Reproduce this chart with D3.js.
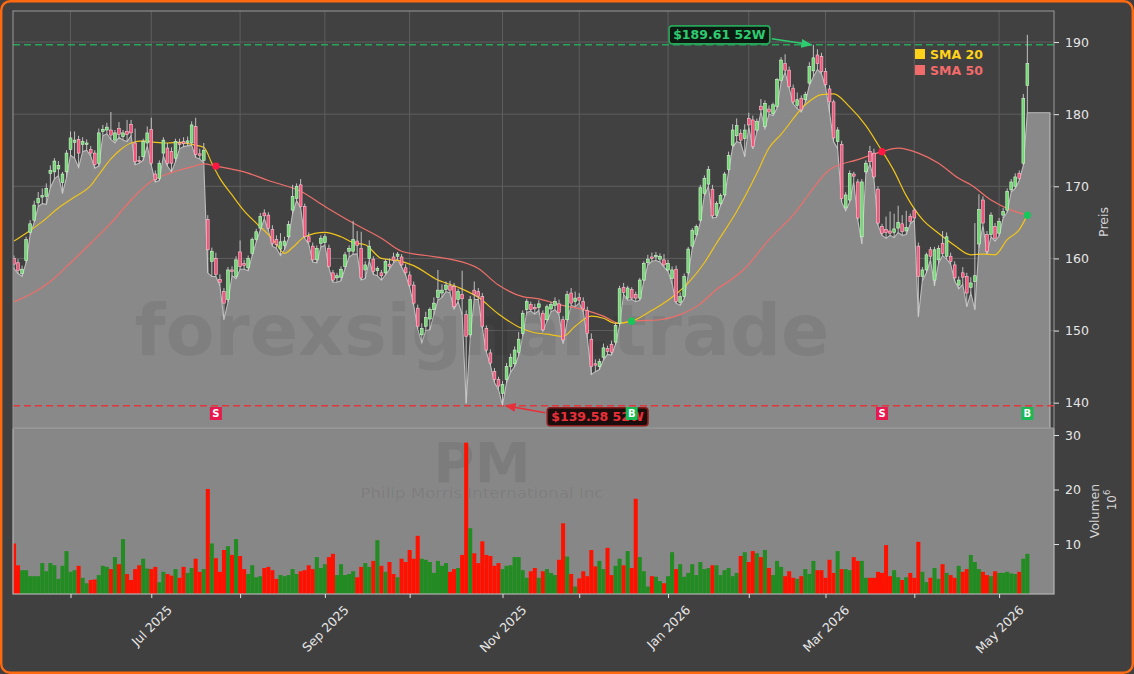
<!DOCTYPE html>
<html>
<head>
<meta charset="utf-8">
<script src="https://cdn.jsdelivr.net/npm/d3@7"></script>
<style>
  html, body { margin: 0; padding: 0; background: #404040; }
  svg { display: block; font-family: "DejaVu Sans", sans-serif; }
</style>
</head>
<body>
<div id="chart"></div>
<script>
// PM daily candles, 2025-05-12 .. 2026-05-12 (o, h, l, c)
const ohlc = [
  [160.0,160.4,158.6,159.2],[159.4,159.9,157.9,158.3],[157.9,159.0,157.5,158.5],[159.7,163.0,159.4,162.6],[163.6,165.3,163.3,164.8],
  [165.3,168.0,165.0,167.4],[167.7,169.2,167.2,168.3],[168.5,169.7,167.6,168.7],[168.6,170.4,167.5,169.7],[171.8,172.9,169.8,172.2],
  [172.0,173.9,171.0,173.5],[172.4,173.5,171.5,172.9],[170.5,172.0,169.0,171.7],[172.0,175.0,171.2,174.6],[175.1,177.6,174.3,176.7],
  [176.1,177.6,173.9,176.4],[176.5,177.0,172.6,174.6],[175.8,176.8,174.8,176.2],[175.8,176.5,175.0,176.0],[175.1,175.6,174.2,174.6],
  [174.6,175.0,172.5,173.0],[173.2,178.0,172.8,177.4],[177.6,178.5,177.0,177.9],[177.8,178.8,177.3,178.2],[177.8,180.3,176.5,177.1],
  [176.4,177.8,176.0,177.4],[178.0,178.9,176.8,177.2],[176.9,177.8,176.4,177.4],[177.6,179.2,176.2,177.2],[178.6,179.2,177.0,177.4],
  [176.0,178.0,173.0,173.4],[173.6,174.2,173.2,173.5],[174.1,176.6,173.6,176.2],[176.0,178.3,175.6,177.4],[177.9,179.5,172.9,173.2],
  [171.7,172.2,170.6,170.9],[171.1,173.6,170.8,173.2],[174.6,176.8,174.2,176.4],[175.3,176.0,172.8,173.2],[174.8,175.4,172.0,173.2],
  [173.9,176.6,173.4,176.2],[176.0,176.6,175.2,175.8],[176.2,176.8,175.5,175.9],[176.1,176.9,175.6,176.3],[176.0,179.0,175.7,178.5],
  [178.3,179.5,174.0,174.4],[174.5,175.2,173.8,174.3],[173.6,176.0,173.2,175.0],[165.4,166.0,158.0,161.2],[159.6,161.5,157.5,161.0],
  [160.0,160.8,157.5,157.8],[157.1,157.8,156.2,156.7],[155.4,155.9,151.5,153.8],[154.3,158.8,153.9,158.4],[158.4,158.9,157.6,158.2],
  [157.5,160.3,157.2,159.8],[160.9,162.5,158.5,158.9],[159.3,159.8,158.5,159.0],[158.7,160.4,158.3,160.0],[160.7,162.9,160.4,162.6],
  [162.6,164.1,162.3,163.7],[164.2,166.3,163.9,165.8],[166.3,166.8,165.5,165.9],[166.0,166.4,163.9,164.2],[164.0,164.6,161.7,162.1],
  [162.6,163.2,161.4,161.9],[161.3,163.5,160.4,162.3],[161.8,163.0,161.2,162.4],[163.0,165.2,162.8,164.7],[166.7,170.2,166.2,168.6],
  [168.3,170.4,168.0,170.0],[170.2,171.0,167.0,167.2],[167.2,167.6,162.8,163.0],[163.0,163.6,162.0,162.3],[161.7,162.2,159.5,159.8],
  [159.8,161.8,159.4,161.4],[162.1,163.2,161.6,162.8],[162.2,163.4,161.8,163.0],[161.4,161.9,158.7,158.9],[158.0,158.4,156.7,157.0],
  [157.3,158.0,156.7,157.6],[157.4,158.9,156.9,158.5],[158.9,160.9,158.6,160.5],[161.0,161.8,160.2,161.4],[161.0,165.2,160.6,162.6],
  [162.4,163.8,160.6,161.8],[161.4,163.7,157.0,157.3],[158.4,159.6,157.2,159.1],[160.0,162.5,159.7,161.7],[159.9,160.3,157.8,158.2],
  [158.3,158.9,157.6,158.6],[158.0,158.4,157.0,157.6],[158.0,159.9,157.7,159.6],[159.2,160.0,158.5,158.9],[160.2,160.8,159.4,159.7],
  [160.3,160.9,159.9,160.6],[160.2,160.6,158.8,159.1],[158.7,159.2,157.7,158.0],[157.7,158.2,156.0,156.3],[156.3,156.8,153.5,153.8],
  [153.1,153.6,150.2,150.6],[149.4,151.0,148.3,150.3],[150.6,152.6,150.0,151.8],[151.6,153.2,150.1,152.9],[152.9,154.6,152.2,153.8],
  [154.6,158.4,154.2,155.6],[155.2,156.4,154.6,155.6],[155.7,156.8,155.4,156.3],[156.2,156.9,155.2,155.6],[156.1,156.6,153.0,153.3],
  [154.3,155.8,154.0,155.4],[155.0,158.3,152.2,154.4],[152.2,152.8,139.9,149.2],[149.4,154.8,149.0,154.3],[155.6,156.8,154.3,155.0],
  [155.4,155.9,154.3,154.7],[154.7,155.2,150.3,150.6],[150.3,150.7,147.0,147.3],[146.9,147.4,145.2,145.5],[144.3,144.8,142.8,143.2],
  [143.2,143.6,141.8,142.3],[141.3,143.0,139.58,142.5],[143.2,145.5,142.8,145.0],[145.0,146.8,144.2,146.3],[145.4,147.8,145.0,147.3],
  [147.0,149.8,146.5,148.8],[149.6,152.8,149.2,152.4],[152.9,154.4,152.5,154.0],[153.6,154.0,152.7,152.9],[153.2,153.7,152.3,153.0],
  [153.2,154.2,152.8,153.7],[152.4,152.8,149.9,150.1],[151.5,153.6,151.2,153.3],[153.0,154.0,152.6,153.6],[153.5,154.6,152.9,154.0],
  [153.7,154.3,152.2,152.5],[151.5,152.0,148.2,148.7],[151.5,155.5,151.2,155.0],[155.2,155.9,153.5,153.8],[154.0,155.4,153.3,154.5],
  [154.6,155.2,153.8,154.2],[154.0,154.6,152.6,153.0],[152.8,153.3,149.0,149.6],[148.8,149.6,143.9,145.0],[145.4,146.0,144.3,145.2],
  [145.0,146.1,144.6,145.7],[146.3,148.2,145.9,147.6],[147.5,147.9,146.7,147.1],[148.1,148.6,146.6,147.0],[148.4,151.1,148.1,150.7],
  [151.0,156.2,150.7,155.8],[156.0,156.6,155.0,155.3],[154.5,156.2,154.2,155.9],[155.7,156.0,154.3,154.5],[155.0,155.4,154.0,154.5],
  [154.5,157.3,154.2,157.0],[157.0,159.6,156.8,159.3],[159.4,160.5,159.1,159.9],[160.2,160.8,159.6,160.0],[160.2,160.9,159.7,160.4],
  [159.9,160.7,159.5,160.3],[159.8,160.6,158.8,159.1],[158.4,159.8,158.2,159.3],[157.2,158.9,156.5,158.4],[158.5,159.0,153.8,154.0],
  [153.9,155.3,153.5,154.7],[154.7,157.9,154.4,157.5],[158.0,161.6,157.7,161.3],[161.7,164.2,161.4,163.9],[163.3,164.7,163.0,164.4],
  [165.3,170.2,165.0,169.8],[169.0,171.5,168.7,171.1],[170.3,172.8,170.0,172.3],[169.6,170.2,165.6,165.9],[166.0,167.9,165.7,167.6],
  [167.6,169.0,167.3,168.7],[168.8,172.0,168.5,171.7],[172.3,174.8,172.0,174.3],[175.7,178.6,175.4,177.8],[177.0,179.4,176.2,178.4],
  [177.3,177.9,176.0,176.4],[176.6,178.6,174.1,177.8],[179.4,180.2,178.2,178.5],[179.2,179.8,175.2,175.5],[177.8,179.4,177.5,179.0],
  [181.1,182.1,180.3,180.6],[178.3,181.9,178.0,181.5],[180.7,181.2,180.0,180.3],[180.1,181.6,179.8,181.3],[181.1,185.0,180.8,184.8],
  [184.7,187.9,184.4,187.5],[187.0,188.3,185.8,186.1],[186.1,186.6,183.6,183.8],[183.6,184.1,181.4,181.7],[181.2,183.0,180.8,182.0],
  [182.2,182.6,180.3,180.6],[182.0,183.1,181.6,182.7],[184.3,187.2,184.0,186.6],[186.0,189.61,185.2,187.8],[188.2,189.0,186.2,187.0],
  [188.0,188.5,185.6,185.9],[185.9,186.4,183.8,184.1],[183.5,184.0,180.2,181.7],[181.7,182.0,176.2,176.7],[176.2,178.2,175.2,177.8],
  [175.8,176.3,167.8,168.3],[167.0,169.2,166.6,168.8],[168.1,172.2,167.8,171.8],[171.7,172.0,170.6,171.4],[170.6,171.0,165.3,165.6],
  [163.0,171.0,162.0,170.6],[172.0,173.6,171.7,173.2],[174.8,175.6,173.1,173.4],[174.6,175.2,171.0,171.3],[169.6,170.0,164.6,164.9],
  [164.4,164.8,163.2,163.5],[164.0,165.8,162.8,163.6],[163.8,166.5,163.2,163.5],[163.6,166.2,162.9,164.1],[164.2,167.3,163.6,165.0],
  [164.8,166.0,163.2,163.7],[163.8,166.6,163.3,164.3],[165.8,166.2,164.8,165.1],[166.7,167.0,165.3,165.6],[161.7,162.2,151.9,157.5],
  [157.5,158.8,156.9,158.4],[158.4,160.8,158.0,160.5],[161.2,161.6,159.8,160.3],[157.0,161.6,156.2,161.2],[159.8,161.8,159.3,161.4],
  [162.1,163.8,160.4,160.7],[160.3,163.6,159.9,163.0],[160.3,160.8,159.2,159.6],[159.1,159.6,156.9,157.3],[156.3,157.5,155.8,157.0],
  [158.0,158.8,156.4,157.4],[157.5,158.0,153.3,155.2],[156.0,157.4,155.2,156.6],[156.8,164.9,152.9,157.6],[162.0,168.9,161.5,166.8],
  [168.1,168.6,164.6,164.9],[163.3,163.8,160.6,161.0],[163.3,166.4,163.0,166.0],[164.4,164.9,162.4,162.8],[163.5,165.6,163.1,165.1],
  [166.0,167.0,165.6,166.5],[166.7,169.7,166.4,169.3],[169.5,171.0,169.2,170.6],[170.0,171.8,169.7,171.3],[171.8,172.2,170.8,171.1],
  [173.2,182.8,172.9,182.2],[184.0,191.0,180.2,187.0]
]

// daily volume, millions
const volumes = [
  10.1,6.1,5.2,5.2,4.1,4.1,4.1,6.5,5.0,6.5, 6.1,3.6,6.0,8.7,4.9,5.2,6.0,3.8,2.8,3.4,
  3.5,4.3,6.0,5.8,5.4,7.6,6.3,10.9,4.5,3.4, 5.4,6.1,7.3,5.5,5.4,5.8,3.0,4.9,4.5,4.2,
  5.4,3.8,5.8,4.7,5.6,7.3,4.9,5.4,20.1,10.1, 7.4,4.9,8.9,9.6,8.0,10.9,7.8,5.4,4.5,6.1,
  3.9,4.1,5.6,5.8,5.2,3.6,4.3,4.1,4.3,5.4, 4.5,5.0,5.2,6.1,5.4,7.6,5.6,6.3,7.6,8.2,
  4.3,6.3,4.3,4.5,5.0,3.9,5.8,6.5,5.8,6.9, 10.7,6.0,4.9,6.7,4.5,3.9,7.3,6.7,8.9,7.3,
  11.5,7.3,7.1,6.7,4.7,6.9,6.0,6.5,4.9,5.4, 5.6,8.0,28.6,12.9,8.3,6.5,10.5,8.0,7.8,6.0,
  6.5,5.4,6.0,6.1,7.6,7.6,5.2,3.8,5.0,5.6, 3.8,5.0,5.4,4.7,4.3,7.1,13.8,7.7,4.5,2.2,
  3.7,5.0,4.1,8.9,5.9,6.9,5.4,9.3,4.3,6.0, 7.3,6.1,8.7,5.6,18.3,7.6,5.0,2.2,4.1,4.0,
  3.2,2.8,4.1,8.5,5.4,6.3,4.0,4.7,6.3,4.3, 6.7,5.4,5.6,6.1,6.1,4.3,5.2,5.6,4.1,4.7,
  7.8,8.5,6.7,8.7,8.3,7.6,8.9,5.6,4.3,6.9, 5.8,4.1,5.0,3.8,3.6,4.1,5.4,4.5,6.9,5.2,
  5.2,3.8,7.1,4.7,8.7,5.4,5.4,5.2,7.6,6.9, 6.9,3.8,3.8,3.8,4.9,4.7,9.8,4.1,5.2,3.9,
  3.4,3.9,4.7,3.8,10.4,4.9,3.0,3.8,5.6,3.6, 6.3,4.7,4.3,3.8,6.0,4.9,5.4,8.0,6.7,5.4,
  4.9,4.3,4.1,5.0,4.7,4.7,4.9,4.6,4.5,4.9, 7.3,8.2
]

// moving averages: [day index, price]
const sma20 = [
  [0,162.4],[3,163.5],[7,165.1],[11,167.0],[15,168.5],[19,170.1],[21,171.6],[24,173.8],[26,174.9],[29,176.0],
  [32,176.3],[35,176.1],[38,176.0],[41,176.1],[44,175.8],[47,175.4],[49,173.2],[51,171.1],[54,168.8],[57,166.6],
  [60,164.9],[63,163.3],[65,162.0],[67,160.7],[69,161.5],[72,163.0],[77,163.6],[81,163.0],[84,162.2],[87,161.9],
  [91,160.0],[96,159.6],[99,159.0],[105,157.0],[110,156.0],[115,154.6],[120,152.3],[125,150.5],[129,149.7],[132,149.5],
  [136,149.2],[139,150.6],[143,152.0],[146,151.7],[149,151.0],[153,151.3],[158,152.8],[162,154.2],[167,156.6],[171,159.4],
  [174,162.1],[179,166.5],[184,171.8],[187,175.3],[190,177.2],[196,181.3],[200,182.7],[203,182.8],[207,181.0],[211,178.4],
  [214,175.8],[218,172.1],[221,168.7],[225,165.4],[229,163.5],[233,161.8],[237,160.5],[240,160.6],[243,160.5],[246,162.6],
  [249,164.0],[251,166.0]
]
const sma50 = [
  [0,154.0],[4,155.0],[9,156.8],[14,159.4],[19,162.1],[24,164.9],[29,168.1],[34,170.7],[39,171.9],[44,172.7],
  [47,173.1],[50,172.8],[57,172.0],[63,170.8],[71,169.3],[77,167.2],[84,164.9],[91,162.8],[96,161.0],[102,160.4],
  [108,159.9],[115,158.6],[120,156.3],[126,154.7],[130,154.4],[135,153.6],[141,152.9],[146,152.0],[150,151.0],[153,151.3],
  [160,151.5],[165,152.2],[170,153.7],[174,155.7],[177,156.8],[181,158.6],[187,162.6],[194,166.7],[197,169.0],[202,172.3],
  [209,173.7],[215,174.8],[219,175.3],[224,174.6],[229,173.2],[234,171.1],[237,170.2],[242,168.1],[247,166.7],[251,166.0]
]

// SMA crossings: [day index, price, side]
const crossings = [[50, 172.8, "S"], [153, 151.3, "B"], [215, 174.8, "S"], [251, 166.0, "B"]]

const high52 = [198, 189.61]
const low52 = [121, 139.58]

const priceTicks = [140, 150, 160, 170, 180, 190]
const volumeTicks = [10, 20, 30]
const holidays = ["2025-05-26", "2025-06-19", "2025-07-04", "2025-09-01", "2025-11-27",
  "2025-12-25", "2026-01-01", "2026-01-19", "2026-02-16", "2026-04-03"]
const firstDay = "2025-05-12"

// trading calendar
const fmtKey = d3.timeFormat("%Y-%m-%d")
const dates = []
for (let d = d3.timeParse("%Y-%m-%d")(firstDay); dates.length < ohlc.length; d = d3.timeDay.offset(d, 1)) {
  const wd = d.getDay()
  if (wd === 0 || wd === 6 || holidays.includes(fmtKey(d))) continue
  dates.push(d)
}
const monthTicks = dates.map((d, i) => i).filter(i => i > 0 && dates[i].getMonth() !== dates[i - 1].getMonth())

const width = 1134
const height = 674
const price = { left: 13, right: 1054, top: 11, bottom: 428 }
const vol = { left: 13, right: 1054, top: 430, bottom: 594 }

const svg = d3.select("#chart").append("svg")
  .attr("width", width)
  .attr("height", height)

svg.append("rect")
  .attr("x", 1.2).attr("y", 1.2)
  .attr("width", width - 2.4).attr("height", height - 2.4)
  .attr("rx", 9)
  .attr("fill", "#404040")
  .attr("stroke", "#ff6a10")
  .attr("stroke-width", 2.4)

const defs = svg.append("defs")
defs.append("clipPath").attr("id", "clipPrice").append("rect")
  .attr("x", price.left).attr("y", price.top)
  .attr("width", price.right - price.left).attr("height", price.bottom - price.top)
defs.append("clipPath").attr("id", "clipVol").append("rect")
  .attr("x", vol.left).attr("y", vol.top)
  .attr("width", vol.right - vol.left).attr("height", vol.bottom - vol.top)
const addArrow = (id, color) => defs.append("marker")
  .attr("id", id).attr("viewBox", "0 0 10 10")
  .attr("refX", 9).attr("refY", 5)
  .attr("markerWidth", 7).attr("markerHeight", 7)
  .attr("orient", "auto")
  .append("path").attr("d", "M0,1 L10,5 L0,9 z").attr("fill", color)
addArrow("arrowGreen", "#2ecc71")
addArrow("arrowRed", "#e8303a")

const xScale = d3.scaleLinear()
  .domain([-0.25, 257.6])
  .range([price.left, price.right])
const yScale = d3.scaleLinear()
  .domain([136.49, 194.3])
  .range([price.bottom, price.top])
const vScale = d3.scaleLinear()
  .domain([0.83, 30.92])
  .range([vol.bottom, vol.top])

// ---- price panel ----
const pricePanel = svg.append("g").attr("clip-path", "url(#clipPrice)")

pricePanel.append("rect")
  .attr("x", price.left).attr("y", price.top)
  .attr("width", price.right - price.left).attr("height", price.bottom - price.top)
  .attr("fill", "#414141")

pricePanel.append("g")
  .selectAll("line.v")
  .data(monthTicks)
  .join("line")
    .attr("x1", d => xScale(d)).attr("x2", d => xScale(d))
    .attr("y1", price.top).attr("y2", price.bottom)
    .attr("stroke", "#5e5e5e").attr("stroke-width", 1)
pricePanel.append("g")
  .selectAll("line.h")
  .data(priceTicks)
  .join("line")
    .attr("x1", price.left).attr("x2", price.right)
    .attr("y1", d => yScale(d)).attr("y2", d => yScale(d))
    .attr("stroke", "#5e5e5e").attr("stroke-width", 1)

// light area along the daily lows
const lowPts = ohlc.map((d, i) => [i, d[2]])
const areaPts = [[xScale.domain()[0], ohlc[0][2]], ...lowPts, [256.6, ohlc[ohlc.length - 1][2]]]
pricePanel.append("path")
  .datum(areaPts)
  .attr("fill", "#898989")
  .attr("d", d3.area()
    .x(d => xScale(d[0]))
    .y0(price.bottom)
    .y1(d => yScale(d[1]))
  )
pricePanel.append("path")
  .datum([...areaPts, [256.6, yScale.domain()[0]]])
  .attr("fill", "none")
  .attr("stroke", "#bdbdbd")
  .attr("stroke-width", 1.1)
  .attr("d", d3.line().x(d => xScale(d[0])).y(d => yScale(d[1])))

pricePanel.append("text")
  .attr("x", 482).attr("y", 355)
  .attr("text-anchor", "middle")
  .attr("font-size", 71).attr("font-weight", "bold")
  .attr("textLength", 695).attr("lengthAdjust", "spacingAndGlyphs")
  .attr("fill", "rgba(0,0,0,0.07)")
  .text("forexsignal.trade")

// 52-week lines
pricePanel.append("line")
  .attr("x1", price.left).attr("x2", price.right)
  .attr("y1", yScale(high52[1])).attr("y2", yScale(high52[1]))
  .attr("stroke", "#27a65a").attr("stroke-width", 1.5).attr("stroke-dasharray", "7,4")
pricePanel.append("line")
  .attr("x1", price.left).attr("x2", price.right)
  .attr("y1", yScale(low52[1])).attr("y2", yScale(low52[1]))
  .attr("stroke", "#e0383c").attr("stroke-width", 1.5).attr("stroke-dasharray", "7,4")

const smaLine = d3.line()
  .x(d => xScale(d[0]))
  .y(d => yScale(d[1]))
  .curve(d3.curveMonotoneX)
pricePanel.append("path").datum(sma50)
  .attr("fill", "none").attr("stroke", "#ee6f6a").attr("stroke-width", 1.2)
  .attr("d", smaLine)
pricePanel.append("path").datum(sma20)
  .attr("fill", "none").attr("stroke", "#f0c419").attr("stroke-width", 1.2)
  .attr("d", smaLine)

const isUp = d => d[3] >= d[0]
const candle = pricePanel.append("g")
  .selectAll("g")
  .data(ohlc)
  .join("g")
candle.append("line")
  .attr("x1", (d, i) => xScale(i)).attr("x2", (d, i) => xScale(i))
  .attr("y1", d => yScale(d[1])).attr("y2", d => yScale(d[2]))
  .attr("stroke", "#cfcfcf").attr("stroke-width", 0.9)
candle.append("rect")
  .attr("x", (d, i) => xScale(i) - 1.4)
  .attr("width", 2.8)
  .attr("y", d => yScale(Math.max(d[0], d[3])))
  .attr("height", d => Math.max(1, Math.abs(yScale(d[0]) - yScale(d[3]))))
  .attr("fill", d => isUp(d) ? "#72d872" : "#f2557a")
  .attr("stroke", d => isUp(d) ? "#d4f5d4" : "#f9c6d2")
  .attr("stroke-width", 0.6)

pricePanel.append("g")
  .selectAll("circle")
  .data(crossings)
  .join("circle")
    .attr("cx", d => xScale(d[0]))
    .attr("cy", d => yScale(d[1]))
    .attr("r", 3.6)
    .attr("fill", d => d[2] === "S" ? "#ff1744" : "#16c75a")

// 52-week labels
const addLabel = (pt, dx, dy, color, border, fill, arrowId) => {
  const px = xScale(pt[0]), py = yScale(pt[1])
  const g = svg.append("g")
  const t = g.append("text")
    .attr("x", px + dx).attr("y", py + dy)
    .attr("text-anchor", "middle").attr("dominant-baseline", "central")
    .attr("font-size", 12.5).attr("font-weight", "bold")
    .attr("fill", color)
    .text(`$${pt[1].toFixed(2)} 52W`)
  const b = t.node().getBBox()
  g.insert("rect", "text")
    .attr("x", b.x - 4).attr("y", b.y - 1.5)
    .attr("width", b.width + 8).attr("height", b.height + 3)
    .attr("rx", 3)
    .attr("fill", fill).attr("stroke", border).attr("stroke-width", 1.6)
  const sx = dx < 0 ? b.x + b.width + 6 : b.x - 6
  g.append("line")
    .attr("x1", sx).attr("y1", py + dy + (dx < 0 ? 4 : -4))
    .attr("x2", px + (dx < 0 ? -2 : 3)).attr("y2", py)
    .attr("stroke", color).attr("stroke-width", 1.6)
    .attr("marker-end", `url(#${arrowId})`)
}
addLabel(high52, -94, -10, "#2ecc71", "#27a65a", "#0d1a12", "arrowGreen")
addLabel(low52, 95, 11, "#e8303a", "#8e1c1c", "#1c0d0d", "arrowRed")

// buy / sell markers
const markerPrice = 138.5
const marks = svg.append("g")
  .selectAll("g")
  .data(crossings)
  .join("g")
    .attr("transform", d => `translate(${xScale(d[0])},${yScale(markerPrice)})`)
marks.append("rect")
  .attr("x", -6).attr("y", -6.5).attr("width", 12).attr("height", 13)
  .attr("fill", d => d[2] === "S" ? "#e8194f" : "#19b955")
marks.append("text")
  .attr("text-anchor", "middle").attr("dominant-baseline", "central")
  .attr("font-size", 10).attr("font-weight", "bold").attr("fill", "#ffffff")
  .text(d => d[2])

// legend
const legend = svg.append("g").attr("transform", "translate(915, 54)")
;[["SMA 20", "#ffd21a"], ["SMA 50", "#f26b6b"]].forEach(([name, color], k) => {
  legend.append("rect").attr("x", 0).attr("y", k * 16 - 5).attr("width", 10).attr("height", 10).attr("fill", color)
  legend.append("text").attr("x", 15).attr("y", k * 16)
    .attr("dominant-baseline", "central")
    .attr("font-size", 12.5).attr("font-weight", "bold").attr("fill", color)
    .text(name)
})

svg.append("rect")
  .attr("x", price.left).attr("y", price.top)
  .attr("width", price.right - price.left).attr("height", price.bottom - price.top)
  .attr("fill", "none").attr("stroke", "#9a9a9a").attr("stroke-width", 1)

// ---- volume panel ----
const volPanel = svg.append("g").attr("clip-path", "url(#clipVol)")
volPanel.append("rect")
  .attr("x", vol.left).attr("y", vol.top)
  .attr("width", vol.right - vol.left).attr("height", vol.bottom - vol.top)
  .attr("fill", "#878787")
volPanel.append("text")
  .attr("x", 482).attr("y", 482)
  .attr("text-anchor", "middle")
  .attr("font-size", 56).attr("font-weight", "bold")
  .attr("fill", "rgba(0,0,0,0.08)")
  .text("PM")
volPanel.append("text")
  .attr("x", 482).attr("y", 498)
  .attr("text-anchor", "middle")
  .attr("font-size", 13.5)
  .attr("textLength", 243).attr("lengthAdjust", "spacingAndGlyphs")
  .attr("fill", "rgba(0,0,0,0.08)")
  .text("Philip Morris International Inc")
volPanel.append("g")
  .selectAll("rect")
  .data(volumes)
  .join("rect")
    .attr("x", (d, i) => xScale(i) - 2.02)
    .attr("width", 4.04)
    .attr("y", d => vScale(d))
    .attr("height", d => vol.bottom - vScale(d))
    .attr("fill", (d, i) => isUp(ohlc[i]) ? "#228b22" : "#ff1100")
svg.append("rect")
  .attr("x", vol.left).attr("y", vol.top - 1)
  .attr("width", vol.right - vol.left).attr("height", vol.bottom - vol.top + 1)
  .attr("fill", "none").attr("stroke", "#b4b4b4").attr("stroke-width", 1.2)

// ---- axes ----
const styleAxis = g => {
  g.select(".domain").remove()
  g.selectAll(".tick line").attr("stroke", "#e0e0e0")
  g.selectAll(".tick text").attr("fill", "#e6e6e6").attr("font-size", 12.5)
    .attr("font-family", "DejaVu Sans")
}
svg.append("g")
  .attr("transform", `translate(${price.right},0)`)
  .call(d3.axisRight(yScale).tickValues(priceTicks).tickSize(5).tickPadding(6))
  .call(styleAxis)
svg.append("g")
  .attr("transform", `translate(${vol.right},0)`)
  .call(d3.axisRight(vScale).tickValues(volumeTicks).tickSize(5).tickPadding(6))
  .call(styleAxis)

const monthFmt = d3.timeFormat("%b %Y")
const xAxis = svg.append("g")
  .attr("transform", `translate(0,${vol.bottom})`)
  .call(d3.axisBottom(xScale)
    .tickValues(monthTicks)
    .tickSize(4)
    .tickFormat(i => dates[i].getMonth() % 2 === 0 ? monthFmt(dates[i]) : ""))
  .call(styleAxis)
xAxis.selectAll(".tick text").each(function () {
  const t = d3.select(this)
  const w = this.getComputedTextLength()
  const off = 9 + (w + 13) / (2 * Math.SQRT2)
  t.attr("y", null).attr("dy", null)
    .attr("text-anchor", "middle").attr("dominant-baseline", "central")
    .attr("transform", `translate(0,${off}) rotate(-45)`)
})

svg.append("text")
  .attr("transform", "translate(1103,222) rotate(-90)")
  .attr("text-anchor", "middle").attr("dominant-baseline", "central")
  .attr("font-size", 12.5).attr("fill", "#d6d6d6")
  .text("Preis")
svg.append("text")
  .attr("transform", "translate(1094,511) rotate(-90)")
  .attr("text-anchor", "middle").attr("dominant-baseline", "central")
  .attr("font-size", 12.5).attr("fill", "#d6d6d6")
  .text("Volumen")
const expo = svg.append("text")
  .attr("transform", "translate(1112,500) rotate(-90)")
  .attr("text-anchor", "middle").attr("dominant-baseline", "central")
  .attr("font-size", 12).attr("fill", "#d6d6d6")
expo.append("tspan").text("10")
expo.append("tspan").attr("dy", -5).attr("font-size", 8.5).text("6")
</script>
</body>
</html>
